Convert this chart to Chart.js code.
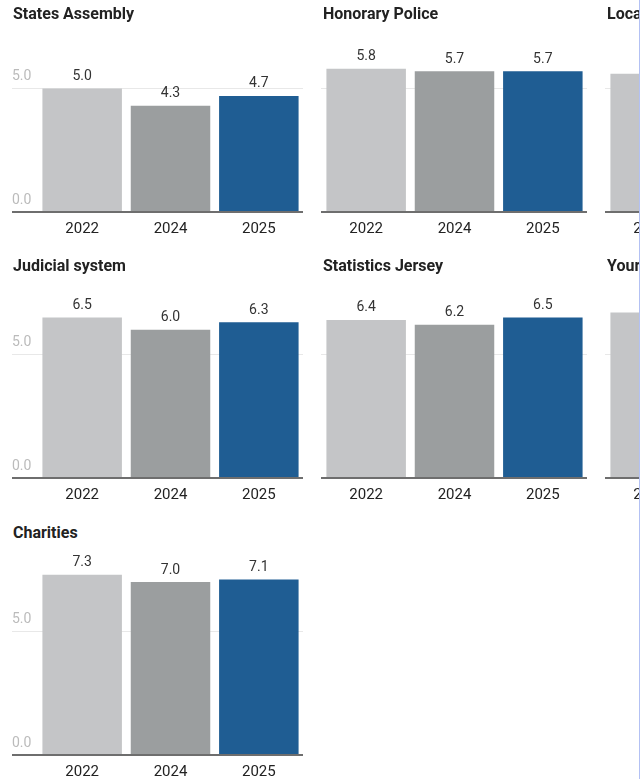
<!DOCTYPE html>
<html><head><meta charset="utf-8">
<script src="https://cdn.jsdelivr.net/npm/chart.js@4.4.0/dist/chart.umd.min.js"></script>
<style>
html,body{margin:0;padding:0;background:#fff;width:641px;height:779px;overflow:hidden;}
#frame{position:absolute;left:0;top:0;width:639px;height:779px;overflow:hidden;border-right:1px solid #b3c1f4;}
.title{position:absolute;font-family:Roboto;font-weight:bold;font-size:16px;line-height:16px;color:#222;white-space:nowrap;z-index:2;}
.panel{position:absolute;}
</style></head><body><div id="frame"></div>
<script>
// ---- data ----
const years = ['2022', '2024', '2025'];
const panelTitles = ['States Assembly', 'Honorary Police', 'Local government', 'Judicial system', 'Statistics Jersey', 'Your parish', 'Charities'];
const statesAssembly = [5.0, 4.3, 4.7];
const honoraryPolice = [5.8, 5.7, 5.7];
const localGov = [5.6, null, null];       // only the 2022 bar is visible
const judicialSystem = [6.5, 6.0, 6.3];
const statisticsJersey = [6.4, 6.2, 6.5];
const yourParish = [6.7, null, null];     // only the 2022 bar is visible
const charities = [7.3, 7.0, 7.1];
const yTicks = [0, 5];
const yMax = 8.5;

// ---- styles / layout ----
const yearColors = ['#c4c5c7', '#9b9e9f', '#1f5d93'];
const panelData = [statesAssembly, honoraryPolice, localGov, judicialSystem, statisticsJersey, yourParish, charities];
const colLeft = [12, 321, 605];
const colWidth = [291, 266, 266];
const yAxisWidth = [26, 1, 1];
const titleLeft = [13, 323, 607];
const rowBaseline = [211.7, 478.3, 755];
const titleTop = [5.5, 257.5, 524.8];
const plotH = 210, xAxisH = 28;

Chart.defaults.font.family = 'Roboto';

const valueLabels = {
  id: 'valueLabels',
  afterDatasetsDraw(chart) {
    const ctx = chart.ctx;
    const meta = chart.getDatasetMeta(0);
    const vals = chart.data.datasets[0].data;
    ctx.save();
    ctx.font = '14px Roboto';
    ctx.fillStyle = '#333';
    ctx.textAlign = 'center';
    ctx.textBaseline = 'alphabetic';
    meta.data.forEach((bar, i) => {
      if (vals[i] == null) return;
      ctx.fillText(vals[i].toFixed(1), bar.x, bar.y - 8.5);
    });
    ctx.restore();
  }
};

const frame = document.getElementById('frame');
panelData.forEach((vals, idx) => {
  const row = Math.floor(idx / 3), col = idx % 3;
  const t = document.createElement('div');
  t.className = 'title';
  t.style.left = titleLeft[col] + 'px';
  t.style.top = titleTop[row] + 'px';
  t.textContent = panelTitles[idx];
  frame.appendChild(t);

  const box = document.createElement('div');
  box.className = 'panel';
  box.style.left = colLeft[col] + 'px';
  box.style.top = (rowBaseline[row] - plotH) + 'px';
  box.style.width = colWidth[col] + 'px';
  box.style.height = (plotH + xAxisH) + 'px';
  const cv = document.createElement('canvas');
  box.appendChild(cv);
  frame.appendChild(box);

  const yw = yAxisWidth[col];
  new Chart(cv, {
    type: 'bar',
    data: {
      labels: years,
      datasets: [{
        data: vals,
        backgroundColor: yearColors,
        borderWidth: 0,
        barPercentage: 0.9,
        categoryPercentage: 1.0
      }]
    },
    options: {
      responsive: true,
      maintainAspectRatio: false,
      animation: false,
      events: [],
      layout: { padding: 0 },
      plugins: { legend: { display: false }, tooltip: { enabled: false } },
      scales: {
        x: {
          grid: { display: false, drawTicks: false },
          border: { display: true, color: '#6e6e6e', width: 2, z: 1 },
          ticks: { color: '#222', font: { size: 15 }, padding: 8, maxRotation: 0 },
          afterFit(s) { s.height = xAxisH; s.paddingLeft = 0; s.paddingRight = 0; }
        },
        y: {
          min: 0,
          max: yMax,
          border: { display: false },
          grid: {
            color: c => (c.tick && c.tick.value === 0) ? '#6e6e6e' : '#e8e8e8',
            lineWidth: c => (c.tick && c.tick.value === 0) ? 2 : 1,
            tickLength: yw,
            drawTicks: true
          },
          ticks: {
            display: col === 0,
            color: '#bbbbbb',
            font: { size: 14 },
            crossAlign: 'far',
            labelOffset: -11.5,
            callback: v => Number(v).toFixed(1)
          },
          afterBuildTicks(s) { s.ticks = yTicks.map(v => ({ value: v })); },
          afterFit(s) { s.width = yw; s.paddingTop = 0; s.paddingBottom = 0; }
        }
      }
    },
    plugins: [valueLabels]
  });
});
</script>
</body></html>
